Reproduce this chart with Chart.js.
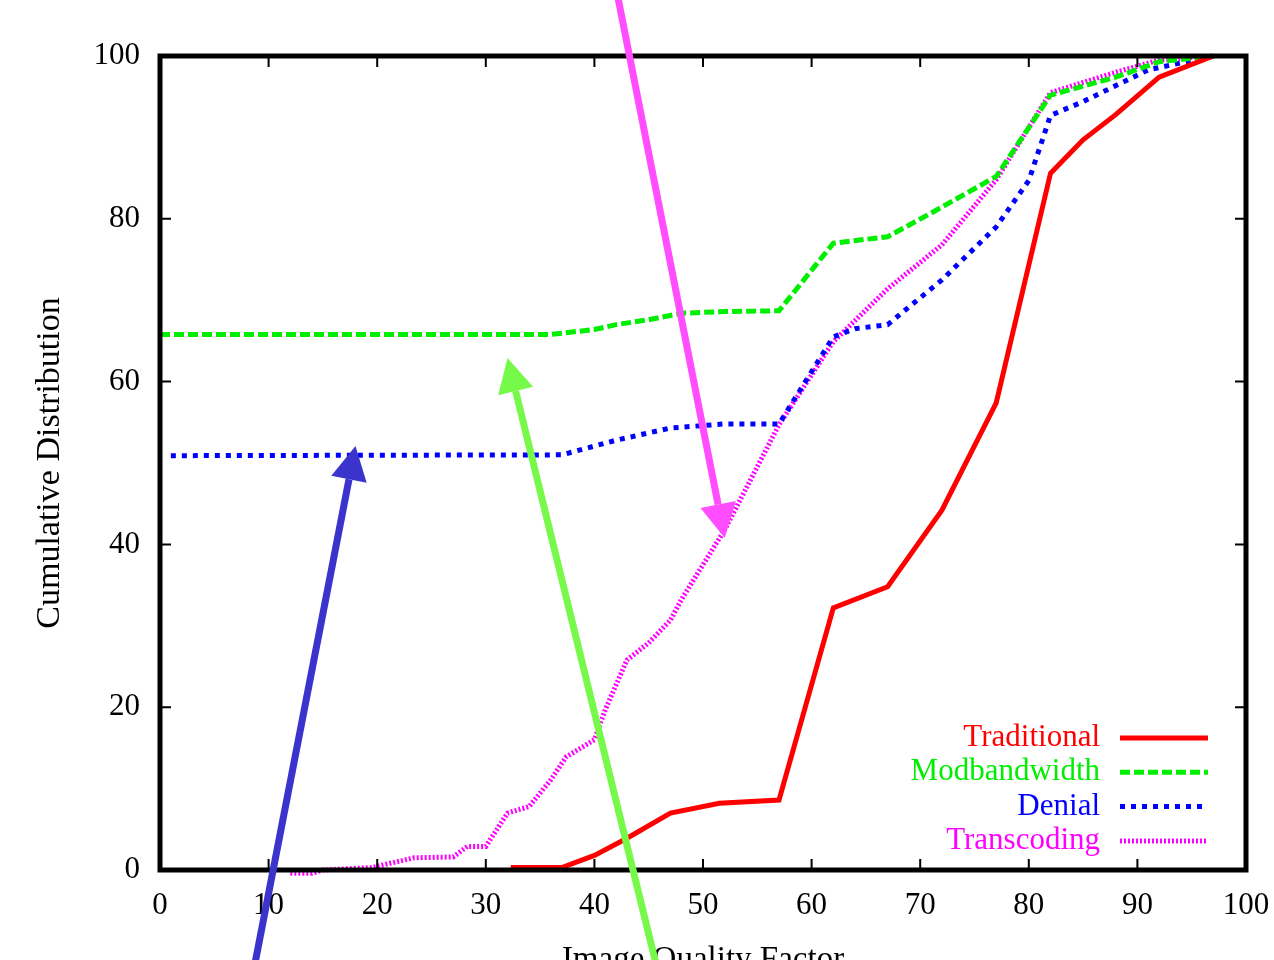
<!DOCTYPE html>
<html>
<head>
<meta charset="utf-8">
<title>Cumulative Distribution</title>
<script src="https://cdn.jsdelivr.net/npm/chart.js@4.4.1/dist/chart.umd.min.js"></script>
<style>
  html, body { margin: 0; padding: 0; background: #fff; overflow: hidden; }
  #wrap { width: 1274px; height: 1000px; position: relative; }
</style>
</head>
<body>
<div id="wrap"><canvas id="chartCdf"></canvas></div>
<script>
// valores (eixo x = fator de qualidade, eixo y = % acumulada)
const seriesNames = ['Traditional', 'Modbandwidth', 'Denial', 'Transcoding'];

const traditionalX = [32.3, 37, 40, 43, 47, 51.5, 57, 62, 67, 72, 77, 82, 85, 88, 92, 97];
const traditionalY = [0.3, 0.3, 1.8, 3.9, 7.0, 8.2, 8.6, 32.2, 34.8, 44.2, 57.4, 85.6, 89.7, 92.8, 97.4, 100];

const modbandwidthX = [0, 36, 40, 42, 45, 48, 52, 57, 62, 67, 71, 77, 82, 88, 92, 97];
const modbandwidthY = [65.8, 65.8, 66.4, 67.0, 67.6, 68.4, 68.6, 68.7, 77.0, 77.8, 80.7, 85.2, 95.2, 97.4, 99.3, 100];

const denialX = [1, 37, 42, 47, 52, 57, 62, 64, 67, 72, 77, 80, 82, 85, 91, 97];
const denialY = [50.9, 51.0, 52.8, 54.3, 54.8, 54.8, 65.5, 66.5, 67.0, 72.5, 79.0, 84.7, 92.7, 94.4, 98.3, 100];

const transcodingX = [12, 14, 15, 19.5, 23.4, 27, 28.3, 30, 32, 34, 36, 37.4, 40, 41, 43, 45, 47, 48, 52, 57, 62, 67, 72, 77, 82, 88, 92, 97];
const transcodingY = [-0.4, -0.4, 0, 0.3, 1.5, 1.6, 2.9, 2.9, 7.0, 7.8, 11.1, 13.9, 16.0, 19.7, 25.8, 27.9, 30.7, 33.2, 41.8, 54.7, 64.9, 71.4, 76.8, 84.8, 95.5, 98.0, 99.5, 100];

const xTickValues = [0, 10, 20, 30, 40, 50, 60, 70, 80, 90, 100];
const yTickValues = [0, 20, 40, 60, 80, 100];

// setas de anotação (em unidades dos dados)
const arrowFromX = [41.75, 46.13, 8.38];
const arrowFromY = [110, -14, -14];
const arrowToX = [52.0, 32.0, 18.0];
const arrowToY = [40.8, 62.9, 52.1];
const arrowColors = ['#ff4dff', '#77f94a', '#3a33cc'];

const fonte = 'Liberation Serif, Times New Roman, serif';

function pontos(xs, ys) {
    return xs.map((x, i) => ({ x: x, y: ys[i] }));
}

// moldura do gnuplot: borda grossa e ticks para dentro nos quatro lados
const moldura = {
    id: 'moldura',
    afterDatasetsDraw(chart) {
        const { ctx, chartArea: a, scales: { x, y } } = chart;
        ctx.save();
        ctx.strokeStyle = '#000';
        ctx.lineWidth = 2;
        ctx.beginPath();
        x.ticks.forEach(t => {
            const px = x.getPixelForValue(t.value);
            ctx.moveTo(px, a.bottom); ctx.lineTo(px, a.bottom - 11);
            ctx.moveTo(px, a.top); ctx.lineTo(px, a.top + 11);
        });
        y.ticks.forEach(t => {
            const py = y.getPixelForValue(t.value);
            ctx.moveTo(a.left, py); ctx.lineTo(a.left + 11, py);
            ctx.moveTo(a.right, py); ctx.lineTo(a.right - 11, py);
        });
        ctx.stroke();
        ctx.lineWidth = 5;
        ctx.strokeRect(a.left, a.top, a.right - a.left, a.bottom - a.top);
        ctx.restore();
    }
};

// legenda no canto inferior direito, texto à direita alinhado + amostra da linha
const legendaInterna = {
    id: 'legendaInterna',
    afterDraw(chart) {
        const { ctx, chartArea: a } = chart;
        ctx.save();
        ctx.font = '31px ' + fonte;
        ctx.textAlign = 'right';
        ctx.textBaseline = 'middle';
        chart.data.datasets.forEach((ds, i) => {
            const yy = a.bottom - 132 + i * 34.3;
            ctx.fillStyle = ds.borderColor;
            ctx.fillText(ds.label, a.right - 146, yy);
            ctx.strokeStyle = ds.borderColor;
            ctx.lineWidth = ds.borderWidth;
            ctx.setLineDash(ds.borderDash || []);
            ctx.beginPath();
            ctx.moveTo(a.right - 126, yy);
            ctx.lineTo(a.right - 38, yy);
            ctx.stroke();
        });
        ctx.restore();
    }
};

const setas = {
    id: 'setas',
    afterDraw(chart) {
        const { ctx, scales: { x, y } } = chart;
        ctx.save();
        arrowFromX.forEach((fx, i) => {
            const x0 = x.getPixelForValue(fx), y0 = y.getPixelForValue(arrowFromY[i]);
            const x1 = x.getPixelForValue(arrowToX[i]), y1 = y.getPixelForValue(arrowToY[i]);
            const ang = Math.atan2(y1 - y0, x1 - x0);
            const cab = 34, meia = 18;
            const bx = x1 - cab * Math.cos(ang), by = y1 - cab * Math.sin(ang);
            ctx.strokeStyle = arrowColors[i];
            ctx.fillStyle = arrowColors[i];
            ctx.lineWidth = 7;
            ctx.beginPath();
            ctx.moveTo(x0, y0);
            ctx.lineTo(bx, by);
            ctx.stroke();
            ctx.beginPath();
            ctx.moveTo(x1, y1);
            ctx.lineTo(bx + meia * Math.sin(ang), by - meia * Math.cos(ang));
            ctx.lineTo(bx - meia * Math.sin(ang), by + meia * Math.cos(ang));
            ctx.closePath();
            ctx.fill();
        });
        ctx.restore();
    }
};

const ctx = document.getElementById('chartCdf');
new Chart(ctx, {
    type: 'line',
    data: {
        datasets: [
            { label: seriesNames[0], data: pontos(traditionalX, traditionalY), borderColor: '#ff0000', borderWidth: 5 },
            { label: seriesNames[1], data: pontos(modbandwidthX, modbandwidthY), borderColor: '#00ee00', borderWidth: 5, borderDash: [10, 4] },
            { label: seriesNames[2], data: pontos(denialX, denialY), borderColor: '#0000ff', borderWidth: 5, borderDash: [5, 6] },
            { label: seriesNames[3], data: pontos(transcodingX, transcodingY), borderColor: '#ff00ff', borderWidth: 5, borderDash: [2, 2], clip: 8 }
        ]
    },
    options: {
        responsive: true,
        maintainAspectRatio: false,
        animation: false,
        elements: { point: { radius: 0 }, line: { tension: 0, borderCapStyle: 'butt' } },
        layout: { padding: { top: 56, right: 28, left: 0, bottom: 0 } },
        plugins: { legend: { display: false }, tooltip: { enabled: false } },
        scales: {
            x: {
                type: 'linear',
                min: 0,
                max: 100,
                afterBuildTicks: s => { s.ticks = xTickValues.map(v => ({ value: v })); },
                afterFit: s => { s.height = 130; s.paddingLeft = 0; s.paddingRight = 0; },
                grid: { display: false, drawTicks: false },
                border: { display: false },
                ticks: { color: '#000', font: { family: fonte, size: 31 }, padding: 17, maxRotation: 0, autoSkip: false },
                title: { display: true, text: 'Image Quality Factor', color: '#000', font: { family: fonte, size: 33 }, padding: { top: 0, bottom: 20 } }
            },
            y: {
                type: 'linear',
                min: 0,
                max: 100,
                afterBuildTicks: s => { s.ticks = yTickValues.map(v => ({ value: v })); },
                afterFit: s => { s.width = 160; s.paddingTop = 0; s.paddingBottom = 0; },
                grid: { display: false, drawTicks: false },
                border: { display: false },
                ticks: { color: '#000', font: { family: fonte, size: 31 }, padding: 20 },
                title: { display: true, text: 'Cumulative Distribution', color: '#000', font: { family: fonte, size: 34 }, padding: { top: 30, bottom: 0 } }
            }
        }
    },
    plugins: [moldura, legendaInterna, setas]
});
</script>
</body>
</html>
